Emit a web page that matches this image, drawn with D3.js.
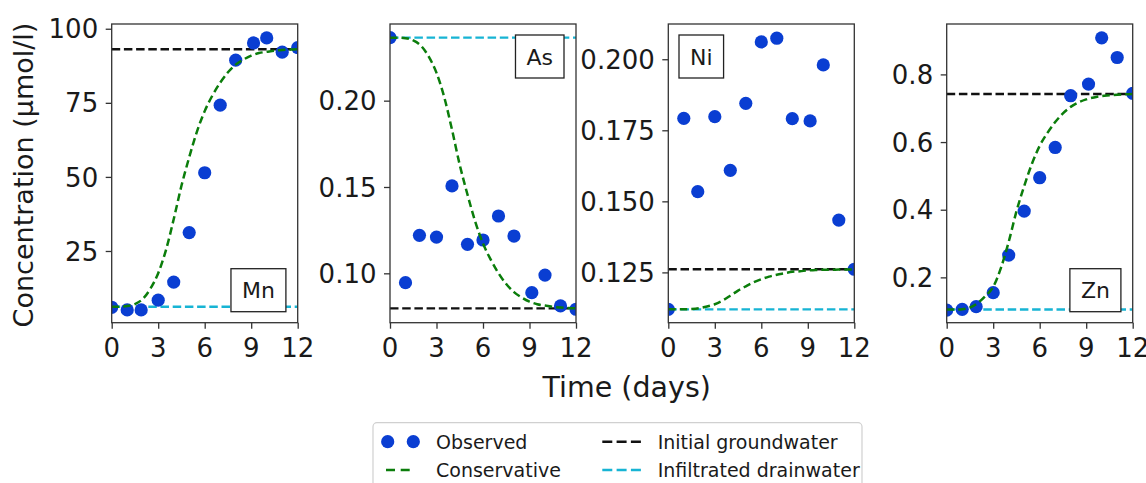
<!DOCTYPE html>
<html>
<head>
<meta charset="utf-8" />
<title>Concentration panels</title>
<script src="https://d3js.org/d3.v7.min.js"></script>
<style>
  body { margin: 0; background: white; }
  text { font-family: "DejaVu Sans", sans-serif; fill: #1a1a1a; }
</style>
</head>
<body>
<svg id="chart" width="1146" height="483"></svg>
<script>
// observation times (days)
var obsTimes = [0, 1, 1.9, 3, 4, 5, 6, 7, 8, 9.15, 10, 11, 12];
// model curve times (days)
var curveTimes = [0, 0.5, 1, 1.5, 2, 2.5, 3, 3.5, 4, 4.5, 5, 5.5, 6, 6.5, 7, 7.5, 8, 8.5, 9, 9.5, 10, 10.5, 11, 11.5, 12];
var xTicks = [0, 3, 6, 9, 12];

// Mn
var mnObserved = [6.0, 5.1, 5.1, 8.4, 14.5, 31.2, 51.4, 74.2, 89.4, 95.2, 96.9, 92.1, 93.6];
var mnConservative = [6.2, 6.2, 6.4, 7.1, 8.8, 12.3, 17.5, 25.3, 35.7, 47.0, 56.6, 65.3, 72.2, 77.5, 81.8, 85.3, 87.9, 89.6, 90.9, 91.8, 92.2, 92.6, 92.8, 93.0, 93.1];
var mnInitial = 93.1, mnDrain = 6.2;
var mnTicks = [25, 50, 75, 100];

// As
var asObserved = [0.2365, 0.0946, 0.122, 0.121, 0.1506, 0.1168, 0.1193, 0.1332, 0.1216, 0.0888, 0.099, 0.0811, 0.0792];
var asConservative = [0.2365, 0.2365, 0.2362, 0.2349, 0.2318, 0.2255, 0.2161, 0.2020, 0.1832, 0.1628, 0.1456, 0.1299, 0.1173, 0.1079, 0.1001, 0.0938, 0.0891, 0.0860, 0.0836, 0.0821, 0.0813, 0.0806, 0.0802, 0.0799, 0.0797];
var asInitial = 0.0797, asDrain = 0.2365;
var asTicks = [0.10, 0.15, 0.20];

// Ni
var niObserved = [0.112, 0.1792, 0.1534, 0.1798, 0.1609, 0.1845, 0.2061, 0.2074, 0.1791, 0.1783, 0.198, 0.1434, 0.1261];
var niConservative = [0.1120, 0.1120, 0.1120, 0.1121, 0.1124, 0.1130, 0.1138, 0.1151, 0.1168, 0.1186, 0.1201, 0.1215, 0.1226, 0.1235, 0.1242, 0.1247, 0.1252, 0.1254, 0.1257, 0.1258, 0.1259, 0.1259, 0.1260, 0.1260, 0.1260];
var niInitial = 0.1261, niDrain = 0.112;
var niTicks = [0.125, 0.150, 0.175, 0.200];

// Zn
var znObserved = [0.1034, 0.1054, 0.1133, 0.1547, 0.266, 0.396, 0.4946, 0.584, 0.737, 0.7714, 0.908, 0.850, 0.744];
var znConservative = [0.105, 0.105, 0.106, 0.111, 0.124, 0.145, 0.172, 0.228, 0.305, 0.395, 0.470, 0.536, 0.589, 0.627, 0.659, 0.685, 0.704, 0.717, 0.726, 0.732, 0.736, 0.738, 0.740, 0.741, 0.742];
var znInitial = 0.742, znDrain = 0.105;
var znTicks = [0.2, 0.4, 0.6, 0.8];

var panels = [
  {name: "Mn", obs: mnObserved, cons: mnConservative, init: mnInitial, drain: mnDrain, ticks: mnTicks, fmt: d3.format("d"),
   domain: [0.8, 101.6], left: 111.7, label: "br"},
  {name: "As", obs: asObserved, cons: asConservative, init: asInitial, drain: asDrain, ticks: asTicks, fmt: d3.format(".2f"),
   domain: [0.0714, 0.2444], left: 390, label: "tr"},
  {name: "Ni", obs: niObserved, cons: niConservative, init: niInitial, drain: niDrain, ticks: niTicks, fmt: d3.format(".3f"),
   domain: [0.1073, 0.2124], left: 668.3, label: "tl"},
  {name: "Zn", obs: znObserved, cons: znConservative, init: znInitial, drain: znDrain, ticks: znTicks, fmt: d3.format(".1f"),
   domain: [0.066, 0.949], left: 946.7, label: "br"}
];

var blue = "#0a3ed2", green = "#0b7d0b", cyan = "#17b4d4", black = "#111";
var plotTop = 24, plotBottom = 322.7, pw = 186;

var svg = d3.select("#chart");

function addText(g, x, y, str, size, anchor) {
  return g.append("text")
    .attr("x", x).attr("y", y)
    .attr("text-anchor", anchor)
    .style("font-size", size + "px")
    .text(str);
}

panels.forEach(function(p, i) {
  var x = d3.scaleLinear().domain([0, 12]).range([p.left, p.left + pw]);
  var y = d3.scaleLinear().domain(p.domain).range([plotBottom, plotTop]);
  var g = svg.append("g");

  svg.append("clipPath").attr("id", "clip" + i)
    .append("rect").attr("x", p.left).attr("y", plotTop).attr("width", pw).attr("height", plotBottom - plotTop);
  var plot = g.append("g").attr("clip-path", "url(#clip" + i + ")");

  // reference levels
  plot.append("line").attr("x1", x(0)).attr("x2", x(12)).attr("y1", y(p.init)).attr("y2", y(p.init))
    .attr("stroke", black).attr("stroke-width", 2.4).attr("stroke-dasharray", "8.5,3.7");
  plot.append("line").attr("x1", x(0)).attr("x2", x(12)).attr("y1", y(p.drain)).attr("y2", y(p.drain))
    .attr("stroke", cyan).attr("stroke-width", 2.4).attr("stroke-dasharray", "8.5,3.7");

  // observed
  plot.selectAll("circle").data(p.obs).enter().append("circle")
    .attr("cx", function(d, j) { return x(obsTimes[j]); })
    .attr("cy", function(d) { return y(d); })
    .attr("r", 6.6)
    .attr("fill", blue);

  // conservative mixing curve
  var line = d3.line()
    .x(function(d, j) { return x(curveTimes[j]); })
    .y(function(d) { return y(d); })
    .curve(d3.curveMonotoneX);
  plot.append("path").datum(p.cons).attr("d", line)
    .attr("fill", "none").attr("stroke", green).attr("stroke-width", 2.5).attr("stroke-dasharray", "7.5,4");

  // frame
  g.append("rect").attr("x", p.left).attr("y", plotTop).attr("width", pw).attr("height", plotBottom - plotTop)
    .attr("fill", "none").attr("stroke", "#333").attr("stroke-width", 1.3);

  // x axis
  var xa = g.append("g").attr("transform", "translate(0," + plotBottom + ")")
    .call(d3.axisBottom(x).tickValues(xTicks).tickSize(6).tickFormat(""));
  xa.select(".domain").remove();
  xa.selectAll("line").attr("stroke", "#333").attr("stroke-width", 1.3);
  xTicks.forEach(function(t) { addText(g, x(t), 356.5, String(t), 26, "middle"); });

  // y axis
  var ya = g.append("g").attr("transform", "translate(" + p.left + ",0)")
    .call(d3.axisLeft(y).tickValues(p.ticks).tickSize(6).tickFormat(""));
  ya.select(".domain").remove();
  ya.selectAll("line").attr("stroke", "#333").attr("stroke-width", 1.3);
  p.ticks.forEach(function(t) { addText(g, p.left - 13.5, y(t) + 9.6, p.fmt(t), 26, "end"); });

  // element label box
  var lbl = addText(g, 0, 0, p.name, 22, "middle");
  var bw = lbl.node().getComputedTextLength() + 22, bh = 43, bx, by;
  if (p.label === "br") { bx = p.left + pw - 11.8 - bw; by = plotBottom - 11 - bh; }
  else if (p.label === "tr") { bx = p.left + pw - 12 - bw; by = plotTop + 11; }
  else { bx = p.left + 10.7; by = plotTop + 11; }
  g.insert("rect", function() { return lbl.node(); })
    .attr("x", bx).attr("y", by).attr("width", bw).attr("height", bh)
    .attr("fill", "white").attr("stroke", "#222").attr("stroke-width", 1.3);
  lbl.attr("x", bx + bw / 2).attr("y", by + bh / 2 + 8);
});

// axis titles
addText(svg, 626.7, 397.3, "Time (days)", 28.5, "middle");
svg.append("text")
  .attr("transform", "translate(33,175) rotate(-90)")
  .attr("text-anchor", "middle")
  .style("font-size", "27px")
  .text("Concentration (µmol/l)");

// legend
var lg = svg.append("g");
lg.append("rect").attr("x", 373).attr("y", 422.7).attr("width", 489).attr("height", 80).attr("rx", 4)
  .attr("fill", "white").attr("stroke", "#d0d0d0").attr("stroke-width", 1.2);
var row1 = 441.7, row2 = 470;
[387.7, 413.3].forEach(function(cx) {
  lg.append("circle").attr("cx", cx).attr("cy", row1).attr("r", 6.6).attr("fill", blue);
});
lg.append("line").attr("x1", 386).attr("x2", 410).attr("y1", row2).attr("y2", row2)
  .attr("stroke", green).attr("stroke-width", 2.5).attr("stroke-dasharray", "9,5.7");
lg.append("line").attr("x1", 602.3).attr("x2", 641.7).attr("y1", row1).attr("y2", row1)
  .attr("stroke", black).attr("stroke-width", 2.4).attr("stroke-dasharray", "10,4.3");
lg.append("line").attr("x1", 602.3).attr("x2", 641.7).attr("y1", row2).attr("y2", row2)
  .attr("stroke", cyan).attr("stroke-width", 2.4).attr("stroke-dasharray", "10,4.3");
addText(lg, 436, row1 + 7, "Observed", 19, "start");
addText(lg, 436, row2 + 7, "Conservative", 19, "start");
addText(lg, 657.7, row1 + 7, "Initial groundwater", 19, "start");
addText(lg, 657.7, row2 + 7, "Infiltrated drainwater", 19, "start");
</script>
</body>
</html>
